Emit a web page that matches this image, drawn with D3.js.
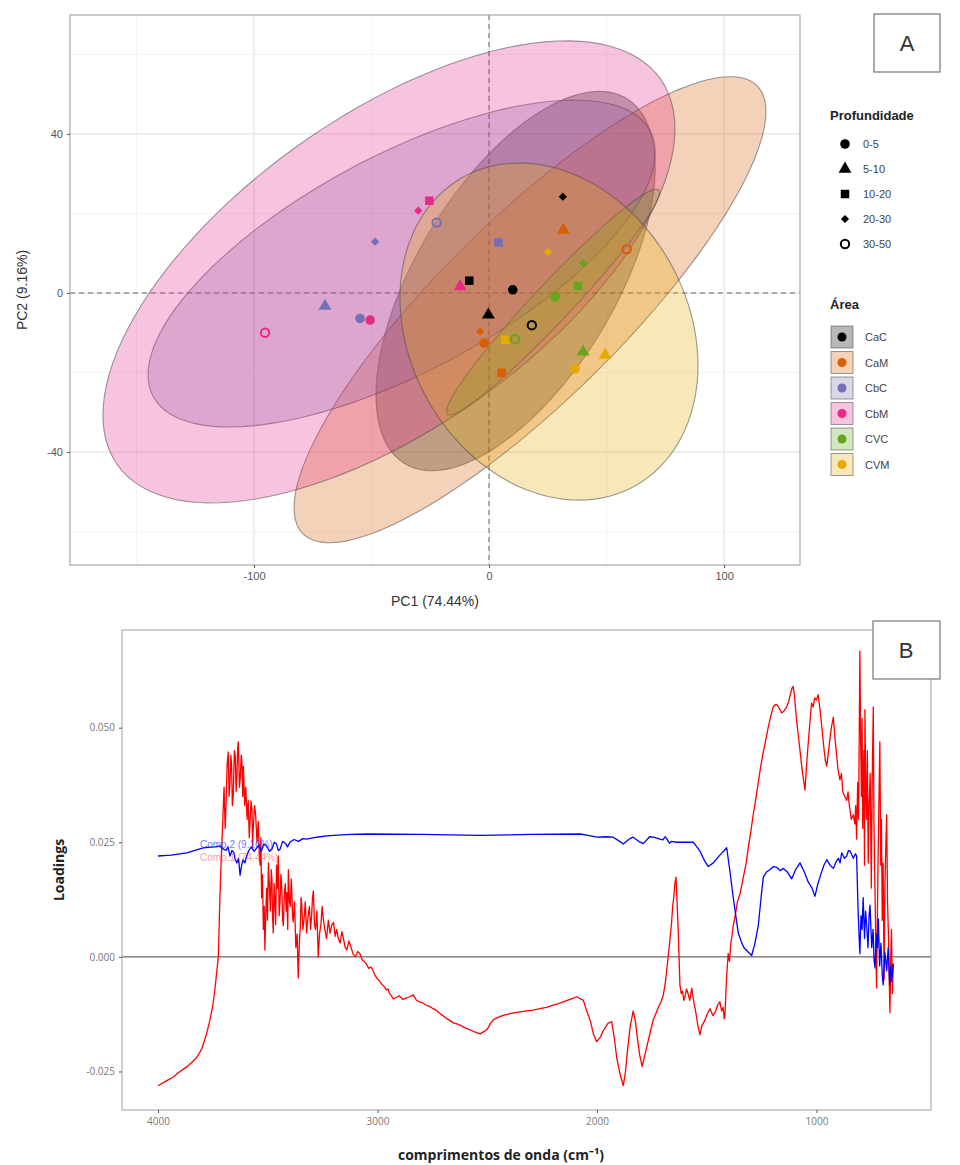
<!DOCTYPE html>
<html>
<head>
<meta charset="utf-8">
<script src="https://cdn.jsdelivr.net/npm/d3@7"></script>
<style>
  body { margin: 0; background: #fff; }
  svg { display: block; font-family: "Liberation Sans", Arial, sans-serif; }
  .tickA text { font-size: 11px; fill: #555; }
  .tickB text { font-size: 10px; fill: #777; font-family: "Open Sans", sans-serif; }
  .tickA line, .tickB line { stroke: #555; }
</style>
</head>
<body>
<svg id="chart" width="960" height="1165"></svg>
<script>
// ---- panel A: PCA scores ----
const areas = ["CaC", "CaM", "CbC", "CbM", "CVC", "CVM"];
const areaColors = ["#000000", "#D95F02", "#7570B3", "#E7298A", "#66A61E", "#E6AB02"];
const depths = ["0-5", "5-10", "10-20", "20-30", "30-50"];

const scoreArea  = ["CaC","CaC","CaC","CaC","CaC", "CaM","CaM","CaM","CaM","CaM",
                    "CbC","CbC","CbC","CbC","CbC", "CbM","CbM","CbM","CbM","CbM",
                    "CVC","CVC","CVC","CVC","CVC", "CVM","CVM","CVM","CVM"];
const scoreDepth = ["0-5","5-10","10-20","20-30","30-50", "0-5","5-10","10-20","20-30","30-50",
                    "0-5","5-10","10-20","20-30","30-50", "0-5","5-10","10-20","20-30","30-50",
                    "0-5","5-10","10-20","20-30","30-50", "0-5","5-10","10-20","20-30"];
const scorePC1 = [10.1, -0.3, -8.4, 31.4, 18.2,  -2.1, 31.6, 5.4, -3.8, 58.6,
                  -54.9, -69.8, 4.0, -48.5, -22.3,  -50.6, -12.3, -25.4, -30.1, -95.3,
                  28.1, 40.0, 37.9, 40.0, 11.1,  36.6, 49.4, 6.8, 25.1];
const scorePC2 = [0.8, -5.5, 3.1, 24.2, -8.1,  -12.6, 15.8, -20.1, -9.7, 11.0,
                  -6.4, -3.3, 12.7, 12.9, 17.7,  -6.8, 1.6, 23.2, 20.7, -10.0,
                  -1.0, -14.8, 1.8, 7.5, -11.6,  -19.1, -15.6, -11.8, 10.3];

// confidence ellipses per area: centre, half extent on each axis, correlation
const ellipseCX = [11.3, 17.4, -37.2, -42.6, 27.2, 25.5];
const ellipseCY = [3.0, -4.2, 7.4, 5.3, -2.3, -9.7];
const ellipseW  = [59.4, 100.4, 107.9, 121.7, 45.3, 63.4];
const ellipseH  = [47.7, 58.6, 41.1, 58.1, 28.4, 42.4];
const ellipseR  = [0.60, 0.85, 0.68, 0.62, 0.97, -0.20];

const pcaXTicks = [-100, 0, 100];
const pcaYTicks = [-40, 0, 40];

// ---- panel B: loadings ----
const pc1Loadings = [[4000,-0.0281],[3960,-0.0270],[3930,-0.0262],[3900,-0.0250],[3870,-0.0240],[3850,-0.0232],[3824,-0.0220],[3800,-0.0200],[3780,-0.0170],[3763,-0.0137],[3750,-0.0105],[3740,-0.0068],[3725,0.0000],[3718,0.0129],[3712,0.0210],[3705,0.0295],[3699,0.0370],[3694,0.0280],[3690,0.0330],[3685,0.0420],[3680,0.0447],[3676,0.0350],[3672,0.0380],[3668,0.0440],[3665,0.0420],[3661,0.0330],[3657,0.0355],[3652,0.0450],[3648,0.0440],[3644,0.0360],[3640,0.0400],[3637,0.0455],[3634,0.0469],[3629,0.0370],[3625,0.0390],[3621,0.0440],[3618,0.0430],[3614,0.0350],[3611,0.0416],[3605,0.0330],[3600,0.0370],[3594,0.0300],[3589,0.0341],[3584,0.0260],[3580,0.0300],[3576,0.0340],[3572,0.0320],[3569,0.0240],[3566,0.0280],[3560,0.0330],[3555,0.0310],[3549,0.0250],[3543,0.0295],[3539,0.0230],[3535,0.0200],[3531,0.0260],[3528,0.0129],[3524,0.0180],[3520,0.0060],[3516,0.0110],[3513,0.0015],[3509,0.0090],[3505,0.0150],[3501,0.0080],[3497,0.0205],[3492,0.0150],[3488,0.0100],[3484,0.0190],[3481,0.0170],[3478,0.0090],[3475,0.0052],[3471,0.0160],[3468,0.0130],[3464,0.0070],[3460,0.0200],[3456,0.0150],[3452,0.0220],[3448,0.0090],[3444,0.0120],[3440,0.0180],[3436,0.0150],[3432,0.0080],[3429,0.0068],[3424,0.0140],[3420,0.0160],[3416,0.0100],[3413,0.0140],[3409,0.0060],[3406,0.0190],[3401,0.0120],[3397,0.0110],[3393,0.0170],[3390,0.0140],[3387,0.0090],[3384,0.0076],[3378,0.0120],[3372,0.0020],[3366,0.0050],[3361,-0.0046],[3356,0.0030],[3352,0.0060],[3348,0.0130],[3345,0.0113],[3340,0.0060],[3335,0.0080],[3329,0.0120],[3323,0.0052],[3316,0.0090],[3310,0.0110],[3305,0.0060],[3300,0.0090],[3296,0.0130],[3292,0.0144],[3287,0.0070],[3282,0.0060],[3276,0.0100],[3270,0.0000],[3264,0.0050],[3258,0.0070],[3252,0.0110],[3247,0.0083],[3240,0.0060],[3232,0.0040],[3224,0.0080],[3216,0.0052],[3208,0.0070],[3200,0.0075],[3193,0.0045],[3186,0.0060],[3178,0.0040],[3170,0.0030],[3162,0.0055],[3155,0.0040],[3147,0.0020],[3140,0.0015],[3130,0.0035],[3120,0.0020],[3110,0.0005],[3100,0.0000],[3090,0.0012],[3080,0.0007],[3070,-0.0006],[3060,-0.0010],[3050,-0.0016],[3040,-0.0025],[3030,-0.0022],[3020,-0.0030],[3012,-0.0040],[3004,-0.0046],[2992,-0.0052],[2980,-0.0060],[2970,-0.0064],[2960,-0.0072],[2952,-0.0070],[2945,-0.0080],[2936,-0.0085],[2928,-0.0092],[2914,-0.0088],[2900,-0.0085],[2885,-0.0093],[2870,-0.0090],[2853,-0.0087],[2837,-0.0083],[2823,-0.0094],[2810,-0.0098],[2795,-0.0100],[2780,-0.0105],[2763,-0.0108],[2746,-0.0113],[2733,-0.0116],[2720,-0.0122],[2705,-0.0127],[2690,-0.0133],[2672,-0.0138],[2655,-0.0144],[2638,-0.0146],[2620,-0.0150],[2600,-0.0155],[2579,-0.0159],[2555,-0.0164],[2533,-0.0168],[2515,-0.0163],[2500,-0.0158],[2485,-0.0145],[2472,-0.0137],[2450,-0.0132],[2430,-0.0128],[2405,-0.0125],[2381,-0.0122],[2350,-0.0120],[2320,-0.0118],[2290,-0.0116],[2260,-0.0113],[2230,-0.0110],[2200,-0.0105],[2175,-0.0102],[2153,-0.0098],[2120,-0.0092],[2092,-0.0087],[2062,-0.0095],[2045,-0.0120],[2030,-0.0140],[2015,-0.0170],[2001,-0.0185],[1985,-0.0175],[1970,-0.0160],[1950,-0.0145],[1933,-0.0141],[1920,-0.0180],[1910,-0.0220],[1895,-0.0255],[1880,-0.0281],[1870,-0.0250],[1860,-0.0200],[1848,-0.0150],[1835,-0.0118],[1825,-0.0140],[1815,-0.0180],[1805,-0.0215],[1794,-0.0239],[1782,-0.0215],[1770,-0.0190],[1755,-0.0160],[1743,-0.0137],[1730,-0.0122],[1720,-0.0110],[1708,-0.0098],[1698,-0.0084],[1688,-0.0055],[1680,-0.0020],[1670,0.0025],[1660,0.0075],[1655,0.0110],[1650,0.0130],[1645,0.0160],[1640,0.0174],[1635,0.0120],[1630,0.0060],[1626,0.0000],[1622,-0.0061],[1616,-0.0080],[1610,-0.0075],[1604,-0.0095],[1599,-0.0087],[1592,-0.0070],[1585,-0.0080],[1577,-0.0095],[1568,-0.0068],[1560,-0.0095],[1550,-0.0120],[1540,-0.0150],[1531,-0.0170],[1522,-0.0150],[1510,-0.0140],[1498,-0.0125],[1485,-0.0113],[1472,-0.0128],[1460,-0.0120],[1450,-0.0105],[1440,-0.0098],[1432,-0.0118],[1425,-0.0110],[1420,-0.0135],[1417,-0.0129],[1410,-0.0050],[1402,0.0007],[1396,-0.0010],[1390,0.0030],[1385,0.0045],[1379,0.0068],[1370,0.0090],[1360,0.0120],[1347,0.0140],[1333,0.0174],[1320,0.0205],[1310,0.0240],[1300,0.0270],[1288,0.0310],[1276,0.0345],[1265,0.0380],[1254,0.0415],[1242,0.0447],[1230,0.0475],[1220,0.0500],[1208,0.0525],[1197,0.0545],[1188,0.0550],[1180,0.0550],[1172,0.0544],[1166,0.0539],[1158,0.0532],[1150,0.0535],[1143,0.0540],[1136,0.0545],[1128,0.0555],[1120,0.0570],[1112,0.0585],[1106,0.0590],[1100,0.0570],[1095,0.0540],[1089,0.0510],[1083,0.0485],[1076,0.0455],[1068,0.0420],[1060,0.0390],[1052,0.0364],[1046,0.0410],[1040,0.0450],[1030,0.0510],[1022,0.0554],[1015,0.0545],[1008,0.0565],[1000,0.0560],[992,0.0572],[984,0.0540],[975,0.0500],[967,0.0460],[960,0.0430],[953,0.0416],[947,0.0440],[940,0.0470],[932,0.0500],[923,0.0523],[916,0.0480],[910,0.0450],[902,0.0410],[893,0.0386],[886,0.0400],[880,0.0360],[871,0.0350],[862,0.0341],[856,0.0360],[850,0.0330],[841,0.0300],[832,0.0310],[825,0.0290],[821,0.0330],[817,0.0257],[812,0.0380],[808,0.0300],[802,0.0667],[798,0.0450],[795,0.0350],[792,0.0520],[789,0.0280],[786,0.0380],[784,0.0450],[781,0.0200],[779,0.0539],[775,0.0350],[772,0.0300],[768,0.0450],[764,0.0205],[760,0.0330],[755,0.0400],[750,0.0150],[746,0.0380],[741,0.0545],[738,0.0300],[735,0.0200],[730,0.0050],[726,-0.0068],[722,0.0100],[718,0.0250],[714,0.0380],[711,0.0469],[707,0.0200],[704,0.0300],[700,0.0080],[696,0.0205],[692,-0.0050],[688,0.0150],[684,0.0240],[680,0.0310],[676,0.0120],[672,0.0050],[668,-0.0060],[665,-0.0122],[661,0.0010],[658,0.0060],[654,-0.0080],[650,-0.0015]];

const pc2Loadings = [[4000,0.0220],[3940,0.0222],[3869,0.0227],[3794,0.0238],[3740,0.0240],[3718,0.0242],[3705,0.0236],[3690,0.0232],[3681,0.0240],[3672,0.0220],[3663,0.0232],[3655,0.0228],[3648,0.0212],[3641,0.0205],[3633,0.0215],[3626,0.0178],[3619,0.0200],[3612,0.0212],[3604,0.0205],[3596,0.0220],[3586,0.0232],[3575,0.0240],[3562,0.0230],[3550,0.0238],[3540,0.0244],[3530,0.0230],[3518,0.0246],[3505,0.0242],[3492,0.0230],[3480,0.0236],[3470,0.0250],[3460,0.0246],[3452,0.0232],[3444,0.0235],[3432,0.0252],[3420,0.0248],[3410,0.0240],[3399,0.0250],[3380,0.0256],[3360,0.0252],[3340,0.0258],[3323,0.0257],[3290,0.0260],[3260,0.0262],[3230,0.0264],[3201,0.0265],[3120,0.0267],[3049,0.0268],[2800,0.0267],[2533,0.0265],[2300,0.0267],[2077,0.0268],[2040,0.0265],[2001,0.0261],[1960,0.0262],[1926,0.0261],[1900,0.0253],[1880,0.0246],[1850,0.0258],[1835,0.0261],[1810,0.0252],[1789,0.0247],[1760,0.0262],[1743,0.0261],[1720,0.0258],[1700,0.0255],[1690,0.0262],[1682,0.0258],[1670,0.0248],[1660,0.0252],[1637,0.0250],[1600,0.0250],[1561,0.0250],[1545,0.0240],[1530,0.0230],[1510,0.0210],[1493,0.0197],[1470,0.0205],[1440,0.0222],[1420,0.0232],[1409,0.0238],[1395,0.0190],[1379,0.0129],[1366,0.0085],[1356,0.0052],[1340,0.0030],[1330,0.0020],[1310,0.0010],[1295,0.0003],[1280,0.0030],[1265,0.0068],[1252,0.0130],[1242,0.0174],[1228,0.0185],[1212,0.0190],[1196,0.0197],[1180,0.0195],[1165,0.0188],[1151,0.0193],[1132,0.0185],[1113,0.0170],[1095,0.0190],[1075,0.0205],[1055,0.0185],[1037,0.0163],[1020,0.0150],[1007,0.0132],[993,0.0160],[980,0.0180],[966,0.0200],[953,0.0212],[938,0.0200],[923,0.0193],[910,0.0208],[900,0.0215],[892,0.0205],[885,0.0227],[873,0.0215],[862,0.0220],[854,0.0232],[847,0.0231],[832,0.0215],[822,0.0225],[817,0.0220],[810,0.0100],[806,0.0050],[802,0.0007],[797,0.0090],[792,0.0060],[787,0.0129],[781,0.0040],[776,0.0100],[771,0.0068],[765,0.0020],[760,0.0090],[756,0.0113],[748,0.0020],[742,0.0060],[737,-0.0010],[733,-0.0024],[727,0.0050],[722,0.0020],[718,0.0083],[712,-0.0020],[706,0.0030],[700,-0.0040],[696,-0.0061],[688,0.0010],[680,-0.0030],[673,0.0020],[666,-0.0060],[661,-0.0020],[657,-0.0054],[650,-0.0015]];

const wnTicks = [4000, 3000, 2000, 1000];
const loadTicks = [-0.025, 0, 0.025, 0.05];

const svg = d3.select("#chart");

// ================= PANEL A =================
const xA = d3.scaleLinear().domain([-178.3, 132.3]).range([70, 800]);
const yA = d3.scaleLinear().domain([-68.4, 69.9]).range([565, 15]);

const gA = svg.append("g");

// grid
const minorX = [-150, -50, 50], minorY = [-60, -20, 20, 60];
gA.selectAll(".gxm").data(minorX).join("line")
  .attr("x1", d => xA(d)).attr("x2", d => xA(d)).attr("y1", 15).attr("y2", 565)
  .attr("stroke", "#f0f0f0").attr("stroke-width", 0.8);
gA.selectAll(".gym").data(minorY).join("line")
  .attr("x1", 70).attr("x2", 800).attr("y1", d => yA(d)).attr("y2", d => yA(d))
  .attr("stroke", "#f0f0f0").attr("stroke-width", 0.8);
gA.selectAll(".gx").data(pcaXTicks).join("line")
  .attr("x1", d => xA(d)).attr("x2", d => xA(d)).attr("y1", 15).attr("y2", 565)
  .attr("stroke", "#e3e3e3").attr("stroke-width", 1.2);
gA.selectAll(".gy").data(pcaYTicks).join("line")
  .attr("x1", 70).attr("x2", 800).attr("y1", d => yA(d)).attr("y2", d => yA(d))
  .attr("stroke", "#e3e3e3").attr("stroke-width", 1.2);

// zero reference lines
gA.append("line").attr("x1", xA(0)).attr("x2", xA(0)).attr("y1", 15).attr("y2", 565)
  .attr("stroke", "#666").attr("stroke-dasharray", "5,4");
gA.append("line").attr("x1", 70).attr("x2", 800).attr("y1", yA(0)).attr("y2", yA(0))
  .attr("stroke", "#666").attr("stroke-dasharray", "5,4");

// ellipses
const ellLine = d3.line().curve(d3.curveLinearClosed);
areas.forEach((a, i) => {
  const pts = d3.range(0, 2 * Math.PI, Math.PI / 60).map(t => {
    const ex = ellipseCX[i] + ellipseW[i] * Math.cos(t);
    const ey = ellipseCY[i] + ellipseH[i] * (ellipseR[i] * Math.cos(t) + Math.sqrt(1 - ellipseR[i] ** 2) * Math.sin(t));
    return [xA(ex), yA(ey)];
  });
  gA.append("path").attr("d", ellLine(pts))
    .attr("fill", areaColors[i]).attr("fill-opacity", 0.28)
    .attr("stroke", "#4a4a4a").attr("stroke-opacity", 0.55).attr("stroke-width", 1.1);
});

// point shapes (20-30 is a small square turned 45 degrees)
const shapeOf = d => ({
  "0-5": d3.symbolCircle, "5-10": d3.symbolTriangle, "10-20": d3.symbolSquare,
  "20-30": d3.symbolSquare, "30-50": d3.symbolCircle
})[d];
const sizeOf = d => ({ "0-5": 72, "5-10": 72, "10-20": 72, "20-30": 34, "30-50": 55 })[d];
const rotOf = d => d === "20-30" ? 45 : 0;

gA.selectAll(".pt").data(scorePC1.map((v, i) => i)).join("path")
  .attr("transform", i => `translate(${xA(scorePC1[i])},${yA(scorePC2[i])}) rotate(${rotOf(scoreDepth[i])})`)
  .attr("d", i => d3.symbol(shapeOf(scoreDepth[i]), sizeOf(scoreDepth[i]))())
  .attr("fill", i => scoreDepth[i] === "30-50" ? "none" : areaColors[areas.indexOf(scoreArea[i])])
  .attr("stroke", i => scoreDepth[i] === "30-50" ? areaColors[areas.indexOf(scoreArea[i])] : "none")
  .attr("stroke-width", 2);

// panel border
gA.append("rect").attr("x", 70).attr("y", 15).attr("width", 730).attr("height", 550)
  .attr("fill", "none").attr("stroke", "#a8a8a8").attr("stroke-width", 1.2);

// axes
gA.append("g").attr("class", "tickA").attr("transform", "translate(0,565)")
  .call(d3.axisBottom(xA).tickValues(pcaXTicks).tickSize(3).tickPadding(4).tickFormat(d => String(d)))
  .call(g => g.select(".domain").remove());
gA.append("g").attr("class", "tickA").attr("transform", "translate(70,0)")
  .call(d3.axisLeft(yA).tickValues(pcaYTicks).tickSize(3).tickPadding(4).tickFormat(d => String(d)))
  .call(g => g.select(".domain").remove());

gA.append("text").attr("x", 435).attr("y", 606).attr("text-anchor", "middle")
  .attr("font-size", 14).attr("fill", "#333").text("PC1 (74.44%)");
gA.append("text").attr("transform", "translate(27,290) rotate(-90)").attr("text-anchor", "middle")
  .attr("font-size", 14).attr("fill", "#333").text("PC2 (9.16%)");

// label box A
gA.append("rect").attr("x", 874).attr("y", 14).attr("width", 66).attr("height", 58)
  .attr("fill", "#fff").attr("stroke", "#777").attr("stroke-width", 1.2);
gA.append("text").attr("x", 907).attr("y", 51).attr("text-anchor", "middle")
  .attr("font-size", 22).attr("fill", "#333").text("A");

// legend: depth
const legD = gA.append("g");
legD.append("text").attr("x", 830).attr("y", 120).attr("font-size", 13)
  .attr("font-weight", "bold").attr("fill", "#222").text("Profundidade");
depths.forEach((d, i) => {
  const cy = 144 + i * 25;
  legD.append("path").attr("transform", `translate(845,${cy}) rotate(${rotOf(d)})`)
    .attr("d", d3.symbol(shapeOf(d), sizeOf(d))())
    .attr("fill", d === "30-50" ? "none" : "#000")
    .attr("stroke", d === "30-50" ? "#000" : "none").attr("stroke-width", 2);
  legD.append("text").attr("x", 863).attr("y", cy + 4).attr("font-size", 11)
    .attr("fill", "#444").text(d);
});

// legend: area
const legA = gA.append("g");
legA.append("text").attr("x", 830).attr("y", 309).attr("font-size", 13)
  .attr("font-weight", "bold").attr("fill", "#222").text("Área");
areas.forEach((a, i) => {
  const cy = 337 + i * 25.5;
  legA.append("rect").attr("x", 831).attr("y", cy - 11).attr("width", 22).attr("height", 22)
    .attr("fill", "#fff");
  legA.append("rect").attr("x", 831).attr("y", cy - 11).attr("width", 22).attr("height", 22)
    .attr("fill", areaColors[i]).attr("fill-opacity", 0.28)
    .attr("stroke", "#4a4a4a").attr("stroke-opacity", 0.55);
  legA.append("circle").attr("cx", 842).attr("cy", cy).attr("r", 4.5).attr("fill", areaColors[i]);
  legA.append("text").attr("x", 865).attr("y", cy + 4).attr("font-size", 11)
    .attr("fill", "#444").text(a);
});

// ================= PANEL B =================
const xB = d3.scaleLinear().domain([4164, 478]).range([122, 931]);
const yB = d3.scaleLinear().domain([-0.0334, 0.0713]).range([1110, 630]);

const gB = svg.append("g");

gB.append("line").attr("x1", 122).attr("x2", 931).attr("y1", yB(0)).attr("y2", yB(0))
  .attr("stroke", "#444").attr("stroke-width", 1);

const loadLine = d3.line().x(d => xB(d[0])).y(d => yB(d[1]));
gB.append("path").datum(pc1Loadings).attr("d", loadLine)
  .attr("fill", "none").attr("stroke", "#ff0000").attr("stroke-width", 1.3).attr("stroke-linejoin", "round");
gB.append("path").datum(pc2Loadings).attr("d", loadLine)
  .attr("fill", "none").attr("stroke", "#0000ff").attr("stroke-width", 1.3).attr("stroke-linejoin", "round");

// faint series labels sitting on the curves
gB.append("text").attr("x", 200).attr("y", 848).attr("font-size", 10).attr("fill", "#3a3aff")
  .attr("opacity", 0.7).text("Comp.2 (9.16%)");
gB.append("text").attr("x", 200).attr("y", 861).attr("font-size", 10).attr("fill", "#ff5a5a")
  .attr("opacity", 0.6).text("Comp.1 (74.44%)");

gB.append("rect").attr("x", 122).attr("y", 630).attr("width", 809).attr("height", 480)
  .attr("fill", "none").attr("stroke", "#b0b0b0").attr("stroke-width", 1.2);

gB.append("g").attr("class", "tickB").attr("transform", "translate(0,1110)")
  .call(d3.axisBottom(xB).tickValues(wnTicks).tickSize(3).tickPadding(5).tickFormat(d => String(d)))
  .call(g => g.select(".domain").remove());
gB.append("g").attr("class", "tickB").attr("transform", "translate(122,0)")
  .call(d3.axisLeft(yB).tickValues(loadTicks).tickSize(3).tickPadding(4).tickFormat(d => d.toFixed(3)))
  .call(g => g.select(".domain").remove());

gB.append("text").attr("x", 501).attr("y", 1160).attr("text-anchor", "middle")
  .attr("font-family", "'Open Sans', sans-serif").attr("font-size", 14).attr("font-weight", "bold")
  .attr("fill", "#222").text("comprimentos de onda (cm⁻¹)");
gB.append("text").attr("transform", "translate(64,870) rotate(-90)").attr("text-anchor", "middle")
  .attr("font-family", "'Open Sans', sans-serif").attr("font-size", 14).attr("font-weight", "bold")
  .attr("fill", "#222").text("Loadings");

gB.append("rect").attr("x", 873).attr("y", 621).attr("width", 67).attr("height", 58)
  .attr("fill", "#fff").attr("stroke", "#777").attr("stroke-width", 1.2);
gB.append("text").attr("x", 906).attr("y", 658).attr("text-anchor", "middle")
  .attr("font-size", 22).attr("fill", "#333").text("B");
</script>
</body>
</html>
